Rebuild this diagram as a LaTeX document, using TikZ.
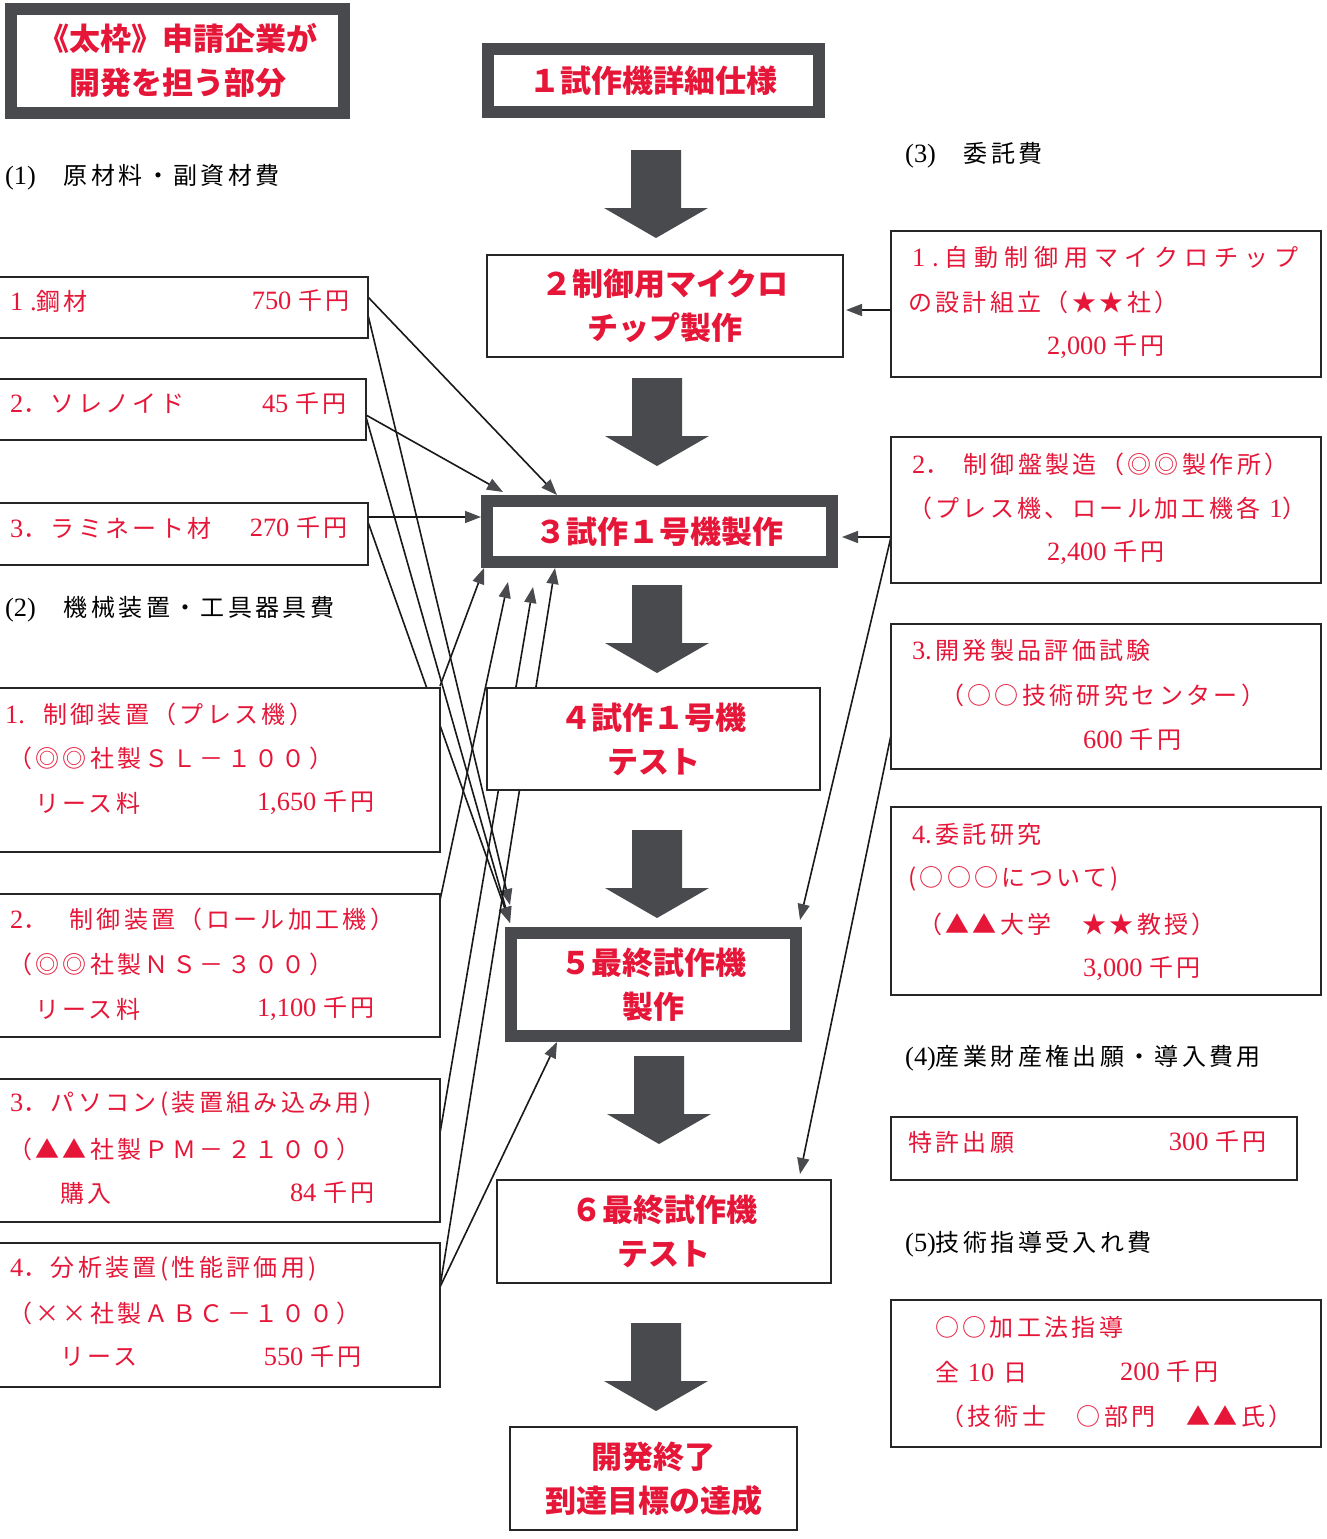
\documentclass[tikz,border=0pt]{standalone}
\usepackage{fontspec}
\usetikzlibrary{arrows.meta}
\newfontfamily\jp{Noto Sans CJK JP}
\newfontfamily\jpsp{Noto Sans CJK JP}[LetterSpace=14]
\newfontfamily\jpw{Noto Sans CJK JP}[LetterSpace=25]
\newfontfamily\lsr{Liberation Serif}[Scale=1.1]
\definecolor{tred}{RGB}{230,22,56}
\definecolor{frame}{RGB}{72,74,77}
\pgfdeclarelayer{background}
\pgfsetlayers{background,main}
\newcommand\downblock[2]{\fill[frame] (#1-25,#2) -- (#1+25,#2) -- (#1+25,#2+58) -- (#1+52,#2+58) -- (#1,#2+88) -- (#1-52,#2+58) -- (#1-25,#2+58) -- cycle;}
\newcommand\yen[1]{{\lsr #1}\hspace{7pt}千円}
\begin{document}
\begin{tikzpicture}[x=1pt,y=-1pt,
  box/.style={draw=black!85, line width=1.8pt, fill=white, inner sep=0pt, outer sep=0pt},
  heavy/.style={draw=frame, line width=12pt, fill=white, inner sep=0pt, outer sep=6pt},
  ctext/.style={text=tred, font=\jp\bfseries\fontsize{31}{44}\selectfont, align=center},
  mt/.style={text=tred, font=\jpsp\fontsize{24}{28}\selectfont, inner sep=0pt, anchor=west},
  amt/.style={mt, anchor=east},
  hd/.style={mt, text=black},
  conn/.style={line width=1.6pt, draw=black!90, -{Triangle[length=16pt,width=12pt,color=frame]}}]
\useasboundingbox (0,0) rectangle (1327,1539);
\begin{pgfonlayer}{background}
\fill[white] (0,0) rectangle (1327,1539);
\end{pgfonlayer}

% ---------- centre column ----------
\node[heavy, ctext, minimum width=333pt, minimum height=104pt] (TL) at (177.5,61) {《太枠》申請企業が\\開発を担う部分};
\node[heavy, ctext, minimum width=331pt, minimum height=63pt] (C1) at (653.5,80.5) {１試作機詳細仕様};
\node[box, ctext, minimum width=356pt, minimum height=102pt] (C2) at (665,306) {２制御用マイクロ\\チップ製作};
\node[heavy, ctext, minimum width=345pt, minimum height=61pt] (C3) at (659.5,531.5) {３試作１号機製作};
\node[box, ctext, minimum width=333pt, minimum height=102pt] (C4) at (653.5,739) {４試作１号機\\テスト};
\node[heavy, ctext, minimum width=285pt, minimum height=103pt] (C5) at (653.5,984.5) {５最終試作機\\製作};
\node[box, ctext, minimum width=334pt, minimum height=103pt] (C6) at (664,1231.5) {６最終試作機\\テスト};
\node[box, ctext, minimum width=287pt, minimum height=103pt] (C7) at (653.5,1478.5) {開発終了\\到達目標の達成};

\downblock{656}{150}
\downblock{657}{378}
\downblock{657}{585}
\downblock{657}{830}
\downblock{659}{1056}
\downblock{656}{1323}

% ---------- left column ----------
\node[hd] (H1) at (5,177) {{\lsr (1)}\hspace{28pt}原材料・副資材費};
\node[box, minimum width=378pt, minimum height=61pt] (L1) at (179,307.5) {};
\node[mt] (L1a) at (10,301) {{\lsr 1 .}鋼材};
\node[amt] (L1b) at (350,301) {\yen{750}};
\node[box, minimum width=376pt, minimum height=61pt] (L2) at (178,409.5) {};
\node[mt] (L2a) at (10,404) {{\lsr 2}．ソレノイド};
\node[amt] (L2b) at (347,404) {\yen{45}};
\node[box, minimum width=378pt, minimum height=62pt] (L3) at (179,534) {};
\node[mt] (L3a) at (10,528) {{\lsr 3}．ラミネート材};
\node[amt] (L3b) at (348,528) {\yen{270}};

\node[hd] (H2) at (5,609) {{\lsr (2)}\hspace{28pt}機械装置・工具器具費};
\node[box, minimum width=450pt, minimum height=164pt] (L4) at (215,770) {};
\node[mt] (L4a) at (5,714) {{\lsr 1.}\hspace{18pt}制御装置（プレス機）};
\node[mt] (L4b) at (8,758) {（◎◎社製ＳＬ－１００）};
\node[mt] (L4c) at (35,803) {リース料};
\node[amt] (L4d) at (375,803) {\yen{1,650}};
\node[box, minimum width=450pt, minimum height=143pt] (L5) at (215,965.5) {};
\node[mt] (L5a) at (10,919) {{\lsr 2}．\hspace{22pt}制御装置（ロール加工機）};
\node[mt] (L5b) at (8,964) {（◎◎社製ＮＳ－３００）};
\node[mt] (L5c) at (35,1009) {リース料};
\node[amt] (L5d) at (375,1009) {\yen{1,100}};
\node[box, minimum width=450pt, minimum height=143pt] (L6) at (215,1150.5) {};
\node[mt] (L6a) at (10,1104) {{\lsr 3}．パソコン(装置組み込み用)};
\node[mt] (L6b) at (8,1149) {（▲▲社製ＰＭ－２１００）};
\node[mt] (L6c) at (60,1193) {購入};
\node[amt] (L6d) at (375,1193) {\yen{84}};
\node[box, minimum width=450pt, minimum height=144pt] (L7) at (215,1315) {};
\node[mt] (L7a) at (10,1269) {{\lsr 4}．分析装置(性能評価用)};
\node[mt] (L7b) at (8,1313) {（××社製ＡＢＣ－１００）};
\node[mt] (L7c) at (60,1357) {リース};
\node[amt] (L7d) at (362,1357) {\yen{550}};

% ---------- right column ----------
\node[hd] (H3) at (905,155) {{\lsr (3)}\hspace{28pt}委託費};
\node[box, minimum width=430pt, minimum height=146pt] (R1) at (1106,304) {};
\node[mt, font=\jpw\fontsize{24}{28}\selectfont] (R1a) at (912,257) {{\lsr 1 }.自動制御用マイクロチップ};
\node[mt] (R1b) at (908,302) {の設計組立（★★社）};
\node[mt] (R1c) at (1047,347) {\yen{2,000}};
\node[box, minimum width=430pt, minimum height=146pt] (R2) at (1106,510) {};
\node[mt] (R2a) at (912,464) {{\lsr 2}．\hspace{14pt}制御盤製造（◎◎製作所）};
\node[mt] (R2b) at (908,508) {（プレス機、ロール加工機各 {\lsr 1}）};
\node[mt] (R2c) at (1047,553) {\yen{2,400}};
\node[box, minimum width=430pt, minimum height=145pt] (R3) at (1106,696.5) {};
\node[mt] (R3a) at (912,650) {{\lsr 3}.開発製品評価試験};
\node[mt] (R3b) at (940,695) {（○○技術研究センター）};
\node[mt] (R3c) at (1083,740) {\yen{600}};
\node[box, minimum width=430pt, minimum height=188pt] (R4) at (1106,901) {};
\node[mt] (R4a) at (912,834) {{\lsr 4}.委託研究};
\node[mt] (R4b) at (908,879) {(○○○について)};
\node[mt] (R4c) at (918,924) {（▲▲大学　★★教授）};
\node[mt] (R4d) at (1083,969) {\yen{3,000}};
\node[hd] (H4) at (905,1058) {{\lsr (4)}産業財産権出願・導入費用};
\node[box, minimum width=406pt, minimum height=63pt] (R5) at (1094,1148.5) {};
\node[mt] (R5a) at (908,1142) {特許出願};
\node[amt] (R5b) at (1267,1142) {\yen{300}};
\node[hd] (H5) at (905,1244) {{\lsr (5)}技術指導受入れ費};
\node[box, minimum width=430pt, minimum height=147pt] (R6) at (1106,1373.5) {};
\node[mt] (R6a) at (935,1327) {○○加工法指導};
\node[mt] (R6b) at (935,1372) {全 {\lsr 10} 日};
\node[mt] (R6c) at (1120,1372) {\yen{200}};
\node[mt] (R6d) at (940,1416) {（技術士　○部門　▲▲氏）};

% ---------- connectors ----------
\begin{pgfonlayer}{background}
\draw[conn] ([yshift=10.5pt]L1.east) -- ([xshift=-102.5pt]C3.north);
\draw[conn] ([yshift=-5.5pt]L2.east) -- ([xshift=-156.5pt,yshift=3pt]C3.north);
\draw[conn] ([yshift=17pt]L3.east) -- ([yshift=14.5pt]C3.west);
\draw[conn] ([yshift=-7.5pt]L1.east) -- ([xshift=5pt,yshift=22pt]C5.north west);
\draw[conn] ([yshift=-7.5pt]L2.east) -- ([xshift=5pt,yshift=4pt]C5.north west);
\draw[conn] ([yshift=12pt]L3.east) -- ([xshift=5pt,yshift=4pt]C5.north west);
\draw[conn] ([yshift=2pt]L4.north east) -- ([xshift=3pt]C3.south west);
\draw[conn] ([yshift=65.5pt]L5.east) -- ([xshift=-151.5pt,yshift=-14pt]C3.south);
\draw[conn] ([yshift=17.5pt]L6.east) -- ([xshift=-126.5pt,yshift=-19pt]C3.south);
\draw[conn] ([yshift=28pt]L7.east) -- ([xshift=-104.5pt]C3.south);
\draw[conn] ([yshift=28pt]L7.east) -- ([xshift=-96.5pt]C5.south);
\draw[conn] ([yshift=-6pt]R1.west) -- ([xshift=3pt,yshift=-4pt]C2.east);
\draw[conn] ([yshift=-27pt]R2.west) -- ([xshift=4pt,yshift=-5.5pt]C3.east);
\draw[conn] ([yshift=-27pt]R2.west) -- ([xshift=-2pt,yshift=7pt]C5.north east);
\draw[conn] ([yshift=-38.5pt]R3.west) -- ([xshift=136pt,yshift=6pt]C6.north);
\end{pgfonlayer}
\end{tikzpicture}
\end{document}
